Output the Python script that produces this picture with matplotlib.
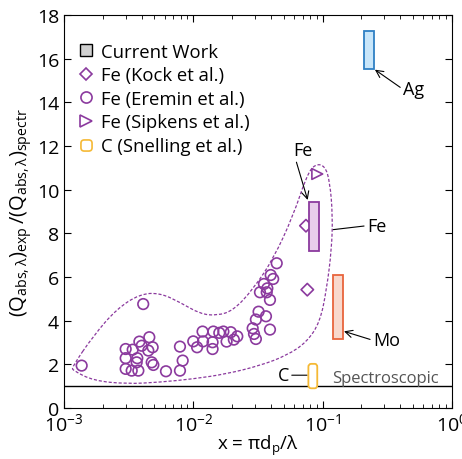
import numpy as np
import matplotlib.pyplot as plt
import matplotlib.patches as mpatches
from matplotlib.path import Path
from matplotlib.lines import Line2D

plt.rcParams['font.family'] = ['Open Sans', 'DejaVu Sans']
plt.rcParams['mathtext.default'] = 'regular'
plt.rcParams['font.size'] = 13

# Eremin et al. (Fe) data
eremin_x = [1.37e-3, 4.1e-3, 3.0e-3, 3.4e-3, 3.0e-3, 3.69e-3, 3.0e-3, 3.34e-3, 3.76e-3,
            3.83e-3, 3.99e-3, 4.57e-3, 4.49e-3, 4.85e-3, 4.77e-3, 4.91e-3, 3.65e-3,
            6.15e-3, 7.89e-3, 8.28e-3, 7.89e-3, 1.0e-2, 1.07e-2, 1.18e-2, 1.19e-2,
            1.41e-2, 1.41e-2, 1.43e-2, 1.59e-2, 1.71e-2, 1.81e-2, 1.95e-2, 2.06e-2,
            2.19e-2, 2.88e-2, 2.95e-2, 3.05e-2, 3.05e-2, 3.2e-2, 3.65e-2, 3.92e-2,
            3.28e-2, 3.52e-2, 3.7e-2, 3.74e-2, 3.92e-2, 3.97e-2, 4.15e-2, 4.42e-2]
eremin_y = [1.94, 4.76, 2.70, 2.67, 2.28, 2.28, 1.79, 1.71, 1.71,
            3.04, 2.85, 3.24, 2.63, 2.78, 2.09, 1.97, 2.09,
            1.68, 1.71, 2.17, 2.81, 3.05, 2.78, 3.50, 3.05,
            3.01, 2.70, 3.50, 3.44, 3.50, 3.04, 3.47, 3.13,
            3.28, 3.65, 3.39, 3.16, 4.05, 4.41, 4.20, 3.59,
            5.30, 5.68, 5.30, 5.48, 4.95, 6.09, 5.91, 6.63]

# Kock et al. and Sipkens et al. (Fe)
kock_x = [7.44e-2, 7.62e-2]
kock_y = [8.35, 5.42]
sipkens_x = [9.1e-2]
sipkens_y = [10.72]

# Current work ranges: (x_min, x_max, y_min, y_max)
fe_box = (7.89e-2, 9.33e-2, 7.21, 9.42)
mo_box = (0.1197, 0.143, 3.16, 6.11)
ag_box = (0.209, 0.250, 15.53, 17.26)
c_box = (7.77e-2, 9.1e-2, 0.90, 2.02)

# dashed envelope around Fe data
env_x = [1.15e-3, 1.69e-3, 2.56e-3, 3.87e-3, 5.52e-3, 7.89e-3, 1.13e-2, 1.52e-2, 2.04e-2,
         2.91e-2, 4.16e-2, 5.93e-2, 7.53e-2, 8.74e-2, 0.1045, 0.114, 0.1197, 0.1175,
         0.1076, 9.55e-2, 7.53e-2, 5.27e-2, 3.28e-2, 1.81e-2, 1.0e-2, 5.52e-3, 3.05e-3,
         1.69e-3, 1.18e-3]
env_y = [1.86, 3.31, 4.54, 5.22, 5.27, 4.84, 4.31, 4.23, 4.46,
         5.45, 6.83, 8.81, 10.64, 11.18, 11.10, 10.34, 8.81, 7.28,
         5.45, 3.93, 3.01, 2.40, 1.94, 1.56, 1.33, 1.18, 1.10,
         1.25, 1.71]

purple = '#8B3A9E'

fig = plt.figure(figsize=(4.62, 4.60), dpi=100)
ax = fig.add_axes([0.1385, 0.111, 0.8395, 0.854])
ax.set_xscale('log')

# smooth closed envelope (quadratic bezier through midpoints, in log-x)
lx = np.log10(env_x)
ey = np.array(env_y)
n = len(lx)
verts, codes = [], []
for i in range(n):
    j = (i + 1) % n
    mid = (10 ** ((lx[i] + lx[j]) / 2), (ey[i] + ey[j]) / 2)
    if i == 0:
        verts.append(mid)
        codes.append(Path.MOVETO)
        continue
    verts += [(env_x[i], env_y[i]), mid]
    codes += [Path.CURVE3, Path.CURVE3]
verts += [(env_x[0], env_y[0]), verts[0]]
codes += [Path.CURVE3, Path.CURVE3]
ax.add_patch(mpatches.PathPatch(Path(verts, codes), fill=False, edgecolor=purple,
                                lw=0.9, linestyle=(0, (2.5, 1.5)), zorder=2))

ax.axhline(1, color='black', lw=1, zorder=1)

ax.scatter(eremin_x, eremin_y, s=58, facecolors='none', edgecolors=purple, linewidths=1.2, zorder=3)
ax.scatter(kock_x, kock_y, s=40, marker='D', facecolors='none', edgecolors=purple, linewidths=1.2, zorder=3)
ax.scatter(sipkens_x, sipkens_y, s=60, marker='>', facecolors='none', edgecolors=purple, linewidths=1.2, zorder=3)

for (x0, x1, y0, y1), fc, ec in [(fe_box, '#E8CDEB', purple),
                                 (mo_box, '#F8D8CC', '#E8643C'),
                                 (ag_box, '#C8E6FA', '#2F80C4')]:
    ax.add_patch(mpatches.Rectangle((x0, y0), x1 - x0, y1 - y0, facecolor=fc,
                                    edgecolor=ec, lw=1.3, zorder=4))
x0, x1, y0, y1 = c_box
ax.add_patch(mpatches.FancyBboxPatch((x0, y0), x1 - x0, y1 - y0,
                                     boxstyle='round,pad=0,rounding_size=0.004',
                                     mutation_aspect=35, facecolor='white',
                                     edgecolor='#F5B935', lw=1.3, zorder=4))

# annotations
arr = dict(arrowstyle='->', color='black', lw=0.8, shrinkA=0, shrinkB=0)
ax.annotate('Fe', xy=(7.67e-2, 9.53), xytext=(5.9e-2, 11.8), ha='left', va='center',
            arrowprops=dict(arr, relpos=(0, 0.5)))
ax.annotate('Fe', xy=(0.121, 8.17), xytext=(0.22, 8.35), ha='left', va='center',
            arrowprops=dict(arrowstyle='-', color='black', lw=0.8, shrinkA=0, shrinkB=0, relpos=(0, 0.5)))
ax.annotate('Mo', xy=(0.1465, 3.51), xytext=(0.245, 3.1), ha='left', va='center',
            arrowprops=dict(arr, relpos=(0, 0.5)))
ax.annotate('Ag', xy=(0.254, 15.5), xytext=(0.419, 14.6), ha='left', va='center',
            arrowprops=dict(arr, relpos=(0, 0.5)))
ax.annotate('C', xy=(7.6e-2, 1.5), xytext=(5.5e-2, 1.5), ha='right', va='center',
            arrowprops=dict(arrowstyle='-', color='black', lw=0.8, shrinkA=0, shrinkB=0, relpos=(1, 0.5)))
ax.text(0.118, 1.02, 'Spectroscopic', color='#555555', fontsize=12, ha='left', va='bottom')

# legend
rr = mpatches.BoxStyle.Round(pad=0, rounding_size=0.3)(-0.5, -0.5, 1, 1, 1)
handles = [
    Line2D([], [], ls='none', marker='s', ms=8, mfc='#D0D0D0', mec='black', mew=1),
    Line2D([], [], ls='none', marker='D', ms=6.5, mfc='none', mec=purple, mew=1.2),
    Line2D([], [], ls='none', marker='o', ms=8, mfc='none', mec=purple, mew=1.2),
    Line2D([], [], ls='none', marker='>', ms=8, mfc='none', mec=purple, mew=1.2),
    Line2D([], [], ls='none', marker=rr, ms=8, mfc='none', mec='#F5B935', mew=1.2),
]
labels = ['Current Work', 'Fe (Kock et al.)', 'Fe (Eremin et al.)',
          'Fe (Sipkens et al.)', 'C (Snelling et al.)']
ax.legend(handles, labels, loc='upper left', bbox_to_anchor=(0.0, 0.96), frameon=False,
          handletextpad=0.25, labelspacing=0.3, handlelength=1.1, fontsize=13.3, borderaxespad=0.25)

ax.set_xlim(1e-3, 1)
ax.set_ylim(0, 18)
ax.set_yticks(range(0, 19, 2))
ax.tick_params(which='both', direction='in', top=True, right=True, labelsize=14)
ax.tick_params(axis='x', pad=3)
ax.tick_params(which='major', length=5)
ax.tick_params(which='minor', length=3)
ax.set_xlabel(r'x = $\pi d_p / \lambda$', fontsize=13.5, labelpad=-1)
ax.set_ylabel(r'$(Q_{abs,\lambda})_{exp}\,/(Q_{abs,\lambda})_{spectr}$', fontsize=14.5, labelpad=2)

fig.savefig('out.png', dpi=100)
